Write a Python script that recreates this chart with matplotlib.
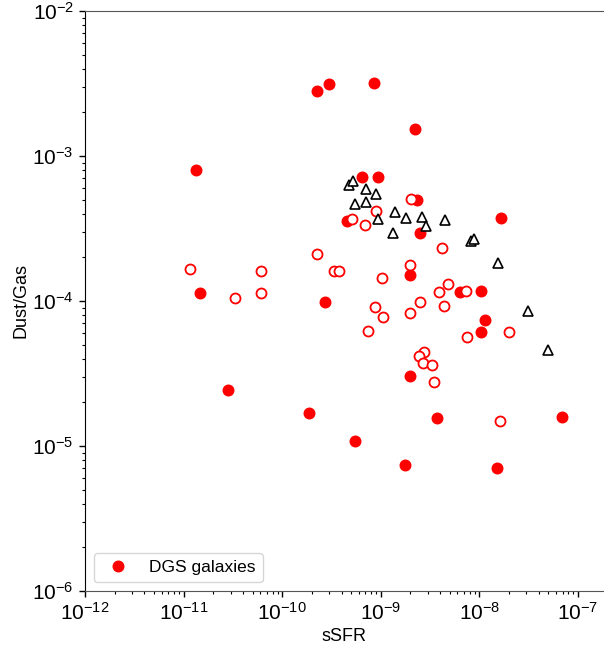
import numpy as np
import matplotlib
matplotlib.use("Agg")
import matplotlib.pyplot as plt

plt.rcParams['font.family'] = ['Liberation Sans', 'DejaVu Sans']
plt.rcParams['mathtext.fontset'] = 'custom'
plt.rcParams['mathtext.rm'] = 'Liberation Sans'
plt.rcParams['mathtext.it'] = 'Liberation Sans:italic'
plt.rcParams['mathtext.default'] = 'regular'

# DGS galaxies (filled)
dgs_ssfr = [1.35e-11, 2.23e-10, 3.0e-10, 8.5e-10, 2.22e-9, 6.4e-10, 9.4e-10,
            2.33e-9, 4.5e-10, 2.49e-9, 1.66e-8, 1.96e-9, 6.43e-9, 1.05e-8,
            1.14e-8, 1.05e-8, 1.47e-11, 2.7e-10, 2.79e-11, 1.96e-9, 1.86e-10,
            5.5e-10, 1.76e-9, 3.72e-9, 1.51e-8, 6.87e-8]
dgs_dg = [8.0e-4, 2.81e-3, 3.12e-3, 3.17e-3, 1.54e-3, 7.13e-4, 7.2e-4,
          5.0e-4, 3.56e-4, 2.96e-4, 3.72e-4, 1.51e-4, 1.15e-4, 1.17e-4,
          7.43e-5, 6.1e-5, 1.14e-4, 9.8e-5, 2.43e-5, 3.06e-5, 1.68e-5,
          1.08e-5, 7.4e-6, 1.56e-5, 7.05e-6, 1.58e-5]

# second sample (open circles)
open_ssfr = [1.16e-11, 6.05e-11, 2.23e-10, 3.33e-10, 3.78e-10, 3.34e-11, 6.04e-11,
             7.45e-10, 1.03e-9, 1.97e-9, 4.16e-9, 3.88e-9, 4.82e-9, 2.48e-9,
             4.37e-9, 8.79e-10, 1.05e-9, 1.96e-9, 2.75e-9, 2.46e-9, 2.69e-9,
             3.33e-9, 3.43e-9, 7.33e-9, 2.02e-8, 7.45e-9, 1.61e-8, 2.02e-9,
             9.0e-10, 5.16e-10, 6.89e-10]
open_dg = [1.66e-4, 1.61e-4, 2.12e-4, 1.60e-4, 1.60e-4, 1.05e-4, 1.13e-4,
           6.22e-5, 1.43e-4, 1.78e-4, 2.33e-4, 1.15e-4, 1.32e-4, 9.87e-5,
           9.18e-5, 9.1e-5, 7.76e-5, 8.22e-5, 4.45e-5, 4.16e-5, 3.71e-5,
           3.6e-5, 2.76e-5, 1.17e-4, 6.08e-5, 5.63e-5, 1.48e-5, 5.05e-4,
           4.2e-4, 3.66e-4, 3.34e-4]

# third sample (triangles)
tri_ssfr = [4.74e-10, 5.26e-10, 7.06e-10, 9.0e-10, 5.42e-10, 7.13e-10, 9.44e-10,
            1.40e-9, 1.80e-9, 2.64e-9, 2.85e-9, 1.34e-9, 4.52e-9, 8.18e-9,
            8.91e-9, 1.56e-8, 3.08e-8, 4.95e-8]
tri_dg = [6.31e-4, 6.73e-4, 5.89e-4, 5.5e-4, 4.65e-4, 4.8e-4, 3.7e-4,
          4.13e-4, 3.72e-4, 3.78e-4, 3.3e-4, 2.93e-4, 3.62e-4, 2.61e-4,
          2.68e-4, 1.82e-4, 8.53e-5, 4.59e-5]

fig = plt.figure(figsize=(6.04, 6.51), dpi=100)
ax = fig.add_axes([85/604, 1 - 591/651, 519/604, 580/651])

ax.plot(dgs_ssfr, dgs_dg, 'o', color='red', ms=7.6, ls='none', label='DGS galaxies')
ax.plot(open_ssfr, open_dg, 'o', mfc='white', mec='red', mew=1.3, ms=7.2, ls='none')
ax.plot(tri_ssfr, tri_dg, '^', mfc='white', mec='black', mew=1.2, ms=7.6, ls='none')

ax.set_xscale('log')
ax.set_yscale('log')
ax.set_xlim(1e-12, 10**(-7 + 26/98.4))
ax.set_ylim(1e-6, 1e-2)
ax.spines['right'].set_visible(False)
for s in ['top', 'bottom']:
    ax.spines[s].set_color('#555555')

ax.tick_params(which='major', direction='out', length=4.5, width=1, labelsize=15)
ax.tick_params(which='minor', direction='out', length=2.5, width=0.8)
ax.tick_params(axis='x', which='both', top=False)

ax.set_xlabel('sSFR', fontsize=13, labelpad=3)
ax.set_ylabel('Dust/Gas', fontsize=13, labelpad=2)

ax.legend(loc='lower left', fontsize=12.5, numpoints=1)

fig.savefig('out.png', dpi=100)
